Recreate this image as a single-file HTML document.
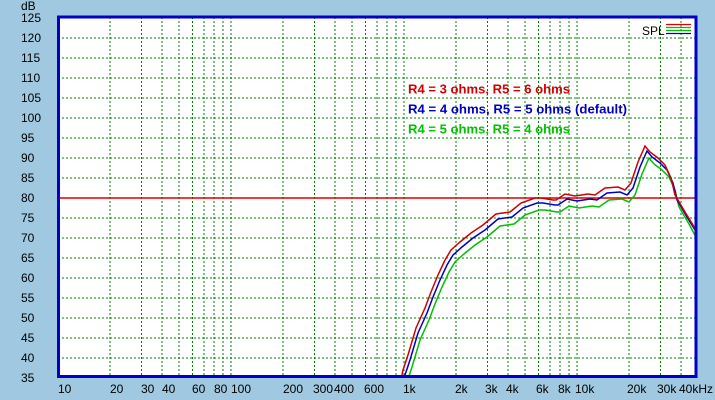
<!DOCTYPE html>
<html><head><style>
html,body{margin:0;padding:0;background:#a0c8e0;}
svg{display:block;font-family:"Liberation Sans",Arial,sans-serif;}
</style></head><body>
<svg width="715" height="400" viewBox="0 0 715 400">
<rect width="715" height="400" fill="#a0c8e0"/>
<rect x="58" y="17" width="638" height="360" fill="#fff"/>
<g stroke="#008000" stroke-width="1" stroke-dasharray="2,2" fill="none">
<path d="M58 38H696M58 58H696M58 78H696M58 98H696M58 118H696M58 138H696M58 158H696M58 178H696M58 218H696M58 238H696M58 258H696M58 278H696M58 298H696M58 318H696M58 338H696M58 358H696"/>
<path d="M110 17V377M141.5 17V377M162 17V377M179 17V377M192.5 17V377M204 17V377M214 17V377M223 17V377M231 17V377
M283 17V377M314.5 17V377M335 17V377M352 17V377M365.5 17V377M377 17V377M387 17V377M396 17V377M404 17V377
M456 17V377M487.5 17V377M508 17V377M525 17V377M538.5 17V377M550 17V377M560 17V377M569 17V377M577 17V377
M629 17V377M660.5 17V377M681 17V377"/>
</g>
<line x1="58" y1="198" x2="696" y2="198" stroke="#e00000" stroke-width="1.5"/>
<defs><clipPath id="c"><rect x="58" y="17" width="638" height="359"/></clipPath></defs>
<g clip-path="url(#c)" fill="none" stroke-width="1.5">
<polyline stroke="#00c000" transform="translate(2,7)" points="403,385 405,375 410,360 418,333 427,313 433,297 440,280 447,265 453,255 462,247 473,238 485,230 498,219 512,217 523,208 537,203 543,203 555,205 558,205 567,199 577,201 590,199 597,200 607,193 620,192 627,195 633,188 640,167 647,151 652,157 660,163 667,170 673,183 677,200 687,217 695,232 700,242"/>
<polyline stroke="#0000c0" points="403,385 405,375 410,360 418,333 427,313 433,297 440,280 447,265 453,255 462,247 473,238 485,230 498,219 512,217 523,208 537,203 543,203 555,205 558,205 567,199 577,201 590,199 597,200 607,193 620,192 627,195 633,188 640,167 647,151 652,157 660,163 667,170 673,183 677,200 687,217 695,230 700,240"/>
<polyline stroke="#d00000" transform="translate(-2,-5)" points="403,385 405,375 410,360 418,333 427,313 433,297 440,280 447,265 453,255 462,247 473,238 485,230 498,219 512,217 523,208 537,203 543,203 555,205 558,205 567,199 577,201 590,199 597,200 607,193 620,192 627,195 633,188 640,167 647,151 652,157 660,163 667,170 673,183 677,200 687,217 695,230 700,240"/>
</g>
<rect x="58.5" y="17" width="637.5" height="359.5" fill="none" stroke="#0000c8" stroke-width="3"/>
<g font-size="12" fill="#000">
<text x="21" y="10">dB</text>
<g dominant-baseline="central">
<text x="21" y="18">125</text><text x="21" y="38">120</text><text x="21" y="58">115</text><text x="21" y="78">110</text><text x="21" y="98">105</text><text x="21" y="118">100</text><text x="21" y="138">95</text><text x="21" y="158">90</text><text x="21" y="178">85</text><text x="21" y="198">80</text><text x="21" y="218">75</text><text x="21" y="238">70</text><text x="21" y="258">65</text><text x="21" y="278">60</text><text x="21" y="298">55</text><text x="21" y="318">50</text><text x="21" y="338">45</text><text x="21" y="358">40</text><text x="21" y="378">35</text>
</g>
<g>
<text x="58" y="393">10</text><text x="110" y="393">20</text><text x="141" y="393">30</text><text x="162" y="393">40</text><text x="192" y="393">60</text><text x="214" y="393">80</text><text x="231" y="393">100</text>
<text x="283" y="393">200</text><text x="313" y="393">300</text><text x="334" y="393">400</text><text x="364" y="393">600</text><text x="403" y="393">1k</text>
<text x="455" y="393">2k</text><text x="485" y="393">3k</text><text x="506" y="393">4k</text><text x="536" y="393">6k</text><text x="558" y="393">8k</text><text x="575" y="393">10k</text>
<text x="627" y="393">20k</text><text x="657" y="393">30k</text><text x="679" y="393">40kHz</text>
</g>
<text x="642" y="35">SPL</text>
</g>
<g stroke-width="1.2">
<line x1="666" y1="24.5" x2="691" y2="24.5" stroke="#e00000"/>
<line x1="666" y1="27.5" x2="691" y2="27.5" stroke="#00c000"/>
<line x1="666" y1="30.5" x2="691" y2="30.5" stroke="#00c000"/>
<line x1="666" y1="33.5" x2="691" y2="33.5" stroke="#0000c0"/>
</g>
<g font-size="13" font-weight="bold" dominant-baseline="central">
<text x="408" y="89" fill="#d00000" textLength="162" lengthAdjust="spacingAndGlyphs">R4 = 3 ohms, R5 = 6 ohms</text>
<text x="408" y="109" fill="#0000c0" textLength="219" lengthAdjust="spacingAndGlyphs">R4 = 4 ohms, R5 = 5 ohms (default)</text>
<text x="408" y="129" fill="#00c000" textLength="162" lengthAdjust="spacingAndGlyphs">R4 = 5 ohms, R5 = 4 ohms</text>
</g>
</svg>
</body></html>
